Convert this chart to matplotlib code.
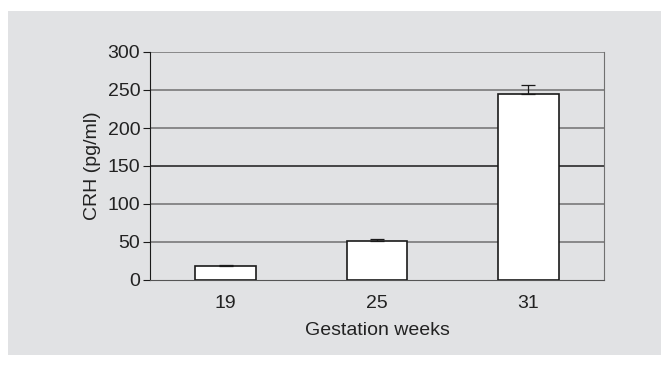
import matplotlib
matplotlib.use('Agg')
import matplotlib.pyplot as plt
from matplotlib.patches import Rectangle

weeks = ['19', '25', '31']
crh = [18, 51, 245]
crh_err = [2, 3, 11]

plt.rcParams['font.family'] = ['Liberation Sans', 'DejaVu Sans']

W, H = 661, 365
fig = plt.figure(figsize=(W / 100, H / 100), dpi=100)
fig.patch.set_facecolor('white')
bg = '#e1e2e4'
fig.patches.append(Rectangle((8 / W, 10 / H), 1 - 8 / W, 1 - 21 / H,
                             transform=fig.transFigure, facecolor=bg,
                             edgecolor='none', zorder=-10))

ax = fig.add_axes([150 / W, (H - 280) / H, 454 / W, 228 / H])
ax.set_facecolor(bg)

x = range(len(weeks))
ax.bar(x, crh, width=0.4, color='white', edgecolor='#1a1a1a', linewidth=1.2,
       zorder=3)
ax.errorbar(x, crh, yerr=[[0] * len(crh), crh_err], fmt='none',
            ecolor='#1a1a1a', elinewidth=0.9, capsize=5, capthick=0.9,
            zorder=4)

ax.set_xlim(-0.5, 2.5)
ax.set_ylim(0, 300)
ax.set_yticks(range(0, 301, 50))
ax.set_xticks(list(x))
ax.set_xticklabels(weeks)

for v in range(50, 301, 50):
    c = '#1a1a1a' if v == 150 else '#707070'
    ax.axhline(v, color=c, linewidth=1.1, zorder=1)

ax.spines['top'].set_visible(False)
ax.spines['right'].set_color('#707070')
ax.spines['left'].set_color('#1a1a1a')
ax.spines['bottom'].set_color('#555555')

fs = 14
ax.tick_params(axis='y', length=5, color='#1a1a1a', labelsize=fs,
               labelcolor='#222222', pad=2)
ax.tick_params(axis='x', length=0, labelsize=fs, labelcolor='#222222',
               pad=11)
ax.set_ylabel('CRH (pg/ml)', fontsize=fs, color='#222222', labelpad=5)
ax.set_xlabel('Gestation weeks', fontsize=fs, color='#222222', labelpad=7)

fig.savefig('out.png', dpi=100)
